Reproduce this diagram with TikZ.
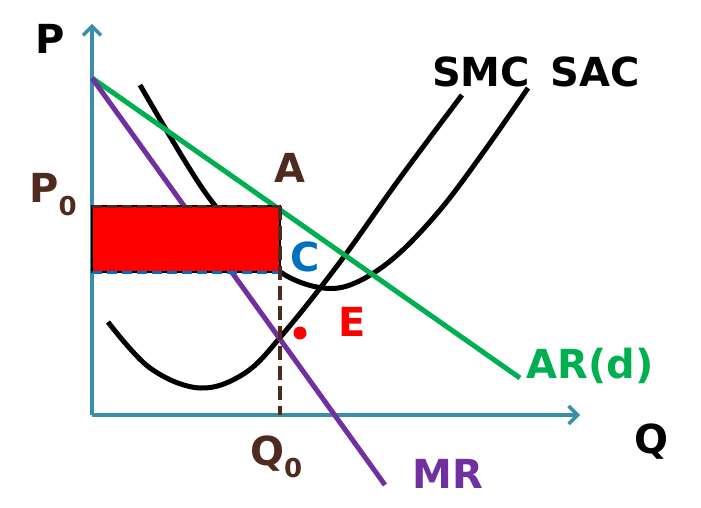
\documentclass[tikz,border=0pt]{standalone}
\usepackage{fontspec}
\setmainfont{DejaVu Sans}
\usetikzlibrary{arrows.meta}
\definecolor{axisc}{HTML}{3A8FA8}
\definecolor{arc}{HTML}{00B050}
\definecolor{mrc}{HTML}{7030A0}
\definecolor{brn}{HTML}{4F2A1E}
\definecolor{bluec}{HTML}{0070C0}
\definecolor{redc}{HTML}{FF0000}
\newcommand{\subzero}[1]{\raisebox{-#1}{\fontsize{26}{28}\selectfont 0}}
\tikzset{
  lbl/.style={font=\bfseries\fontsize{40}{44}\selectfont, inner sep=0pt},
  axisline/.style={axisc, line width=3.5pt, -{Straight Barb[length=9pt,width=18pt,line width=3.5pt]}},
  curve/.style={line width=5pt},
}
\begin{document}
\begin{tikzpicture}[x=1pt,y=-1pt]
\useasboundingbox (0,0) rectangle (701,508);
\coordinate (O) at (92,415);
\coordinate (Ytop) at (92,24);
\coordinate (Xend) at (580,415);
\coordinate (D0) at (92,78);
\coordinate (ARend) at (520,378);
\coordinate (MRend) at (385,485);
\coordinate (RA) at (92,206);
\coordinate (RB) at (280,272);
\coordinate (Atop) at (280,206);
\coordinate (Abot) at (280,415);
\coordinate (Cleft) at (92,272);
% axes
\draw[axisline] (O) -- (Ytop);
\draw[axisline] (O) -- (Xend);
% SAC
\draw[curve] plot[smooth, tension=0.6] coordinates {(140,85) (183,158) (213,203) (250,245) (285,275) (323,288) (355,283) (395,257) (440,210) (485,150) (528,88)};
% SMC
\draw[curve] plot[smooth, tension=0.6] coordinates {(108,322) (150,368) (200,388) (245,373) (283,334) (340,262) (400,178) (462,95)};
% AR and MR
\draw[arc, line width=5pt] (D0) -- (ARend);
\draw[mrc, line width=5pt] (D0) -- (MRend);
% rectangle
\fill[redc] (RA) rectangle (RB);
\draw[black, line width=1.5pt] (RA) rectangle (RB);
\draw[brn, line width=3pt, dash pattern=on 10pt off 5pt] (RA) -- (Atop);
\draw[bluec, line width=3pt, dash pattern=on 10pt off 5pt] (Cleft) -- (RB);
\draw[brn, line width=4.5pt, dash pattern=on 14pt off 6pt] (Atop) -- (Abot);
% E dot
\fill[redc] (300,333) circle (6.5pt);
% labels
\node[lbl] (P) at (50,39) {P};
\node[lbl, brn, anchor=base west] (P0) at (29,202) {P\subzero{13pt}};
\node[lbl, brn] (A) at (290,168) {A};
\node[lbl, bluec] (C) at (305,257) {C};
\node[lbl, redc] (E) at (352,322) {E};
\node[lbl] (SMC) at (481,72) {SMC};
\node[lbl] (SAC) at (595,72) {SAC};
\node[lbl, arc, anchor=base] (AR) at (590,378) {AR(d)};
\node[lbl, anchor=base] (Q) at (651,453) {Q};
\node[lbl, brn, anchor=base west] (Q0) at (250,465) {Q\subzero{12pt}};
\node[lbl, mrc] (MR) at (448,474) {MR};
\end{tikzpicture}
\end{document}
